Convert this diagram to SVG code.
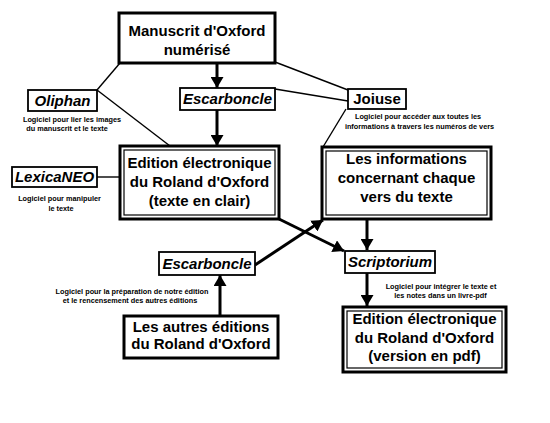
<svg xmlns="http://www.w3.org/2000/svg" width="550" height="423" viewBox="0 0 550 423">
<style>
.big{font-family:"Liberation Sans",Arial,sans-serif;font-weight:bold;font-size:15px;text-anchor:middle;fill:#000}
.lbl{font-family:"Liberation Sans",Arial,sans-serif;font-weight:bold;font-style:italic;font-size:15px;text-anchor:middle;fill:#000}
.lbln{font-family:"Liberation Sans",Arial,sans-serif;font-weight:bold;font-size:15px;text-anchor:middle;fill:#000}
.desc{font-family:"Liberation Sans",Arial,sans-serif;font-weight:bold;font-size:7.3px;text-anchor:middle;fill:#000}
.thick{fill:#fff;stroke:#000;stroke-width:3}
.inner{fill:none;stroke:#000;stroke-width:1.2}
.small{fill:#fff;stroke:#000;stroke-width:1.8}
.arr{stroke:#000;stroke-width:3;fill:none}
.thin{stroke:#000;stroke-width:1.4;fill:none}
</style>
<defs>
<marker id="ah" markerUnits="userSpaceOnUse" markerWidth="12" markerHeight="13" refX="11" refY="6.5" orient="auto">
<path d="M0,0 L11,6.5 L0,13 z" fill="#000"/>
</marker>
</defs>
<rect width="550" height="423" fill="#fff"/>
<g id="connectors">
<line class="thin" x1="97" y1="90" x2="120" y2="63"/>
<line class="thin" x1="97" y1="90" x2="170" y2="146"/>
<line class="thin" x1="97" y1="177" x2="120" y2="177"/>
<line class="thin" x1="275" y1="62" x2="348" y2="90"/>
<line class="thin" x1="275" y1="89" x2="348" y2="101"/>
<line class="thin" x1="346" y1="109" x2="323" y2="147"/>
<line class="arr" x1="217" y1="63" x2="217" y2="88" marker-end="url(#ah)"/>
<line class="arr" x1="217" y1="110" x2="217" y2="146" marker-end="url(#ah)"/>
<line class="arr" x1="367" y1="219" x2="367" y2="250" marker-end="url(#ah)"/>
<line class="arr" x1="367" y1="273" x2="367" y2="306" marker-end="url(#ah)"/>
<line class="arr" x1="220" y1="315" x2="220" y2="275" marker-end="url(#ah)"/>
<line class="arr" x1="279" y1="219" x2="344" y2="251" marker-end="url(#ah)"/>
<line class="arr" x1="255" y1="265" x2="323" y2="220" marker-end="url(#ah)"/>
</g>
<g id="manuscrit">
<rect class="thick" x="119" y="13" width="156" height="50"/>
<text class="big" x="197" y="36">Manuscrit d'Oxford</text>
<text class="big" x="197" y="55">numérisé</text>
</g>
<g id="escarboncle1">
<rect class="small" x="180" y="88" width="95" height="22"/>
<text class="lbl" x="227.5" y="104">Escarboncle</text>
</g>
<g id="oliphan">
<rect class="small" x="28" y="90" width="69" height="21"/>
<text class="lbl" x="62.5" y="106">Oliphan</text>
<text class="desc" x="72" y="122">Logiciel pour lier les images</text>
<text class="desc" x="67" y="131">du manuscrit et le texte</text>
</g>
<g id="joiuse">
<rect class="small" x="348" y="89" width="58" height="20"/>
<text class="lbln" x="377" y="104">Joiuse</text>
<text class="desc" x="418" y="119">Logiciel pour accéder aux toutes les</text>
<text class="desc" x="419.5" y="129">informations à travers les numéros de vers</text>
</g>
<g id="edition">
<rect class="thick" x="120" y="146" width="159" height="73"/>
<rect class="inner" x="124" y="150" width="151" height="65"/>
<text class="big" x="199.5" y="168">Edition électronique</text>
<text class="big" x="199.5" y="187">du Roland d'Oxford</text>
<text class="big" x="199.5" y="206">(texte en clair)</text>
</g>
<g id="lexicaneo">
<rect class="small" x="12" y="167" width="85" height="20"/>
<text class="lbl" x="54.5" y="182">LexicaNEO</text>
<text class="desc" x="59.5" y="201">Logiciel pour manipuler</text>
<text class="desc" x="61" y="211">le texte</text>
</g>
<g id="informations">
<rect class="thick" x="322" y="147" width="169" height="72"/>
<rect class="inner" x="326" y="151" width="161" height="64"/>
<text class="big" x="406.5" y="164">Les informations</text>
<text class="big" x="406.5" y="183">concernant chaque</text>
<text class="big" x="406.5" y="202">vers du texte</text>
</g>
<g id="scriptorium">
<rect class="small" x="345" y="251" width="90" height="22"/>
<text class="lbl" x="390" y="267">Scriptorium</text>
<text class="desc" x="441" y="289">Logiciel pour intégrer le texte et</text>
<text class="desc" x="440.5" y="298">les notes dans un livre-pdf</text>
</g>
<g id="escarboncle2">
<rect class="small" x="159" y="252" width="96" height="23"/>
<text class="lbl" x="207" y="269">Escarboncle</text>
<text class="desc" x="132" y="294">Logiciel pour la préparation de notre édition</text>
<text class="desc" x="130" y="303">et le rencensement des autres éditions</text>
</g>
<g id="autres">
<rect class="thick" x="124" y="316" width="154" height="42"/>
<text class="big" x="201" y="332">Les autres éditions</text>
<text class="big" x="201" y="349">du Roland d'Oxford</text>
</g>
<g id="pdf">
<rect class="thick" x="343" y="307" width="163" height="65"/>
<rect class="inner" x="347" y="311" width="155" height="57"/>
<text class="big" x="424.5" y="324">Edition électronique</text>
<text class="big" x="424.5" y="343">du Roland d'Oxford</text>
<text class="big" x="424.5" y="361">(version en pdf)</text>
</g>
</svg>
